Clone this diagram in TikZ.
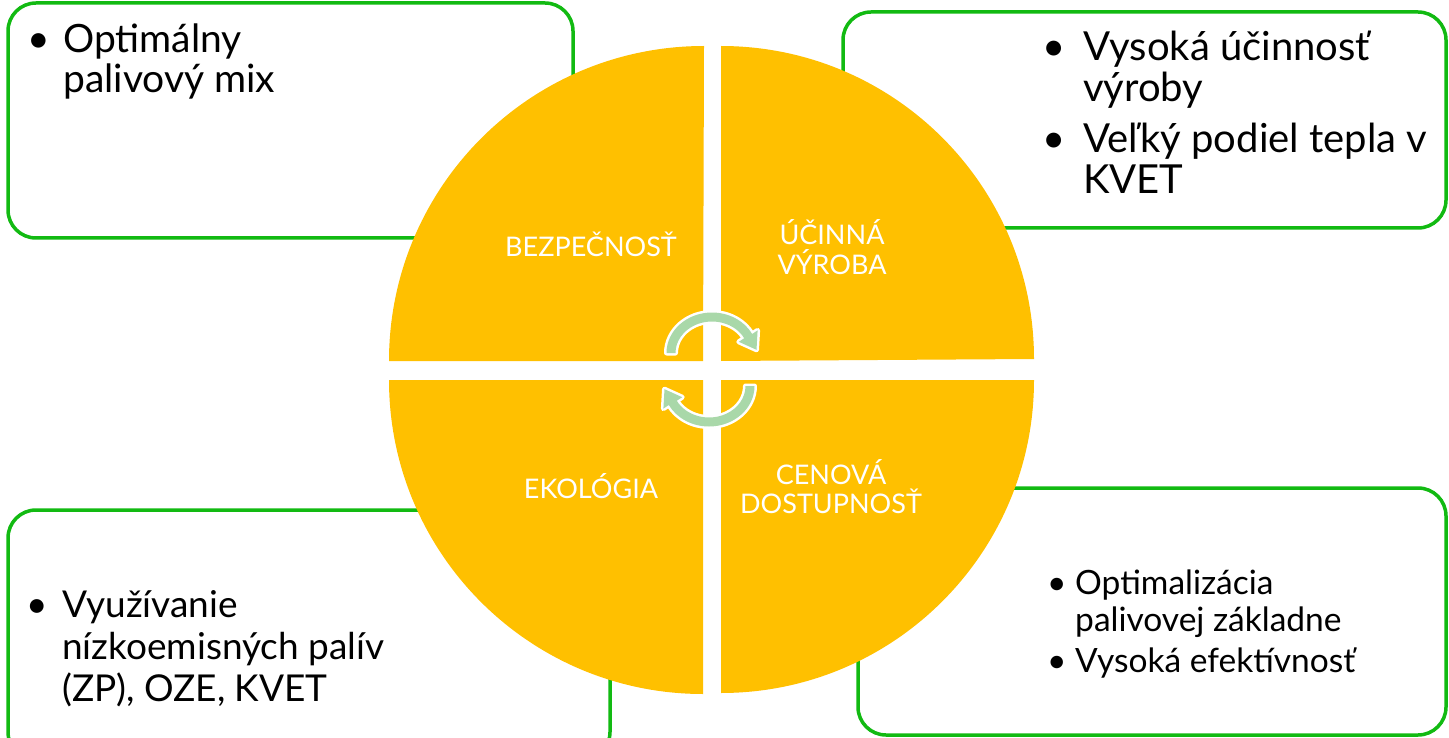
\documentclass[tikz,border=0pt]{standalone}
\usepackage{fontspec}
\setmainfont{Lato}
\definecolor{qyellow}{RGB}{255,192,0}
\definecolor{bgreen}{RGB}{18,186,18}
\definecolor{agreen}{RGB}{169,216,169}
\begin{document}
\begin{tikzpicture}[x=1pt,y=-1pt,
  box/.style={draw=bgreen, line width=3.5pt, fill=white, rounded corners=28pt},
  quad/.style={fill=qyellow},
  txt/.style={anchor=base west, inner sep=0pt, text=black, font=\fontsize{39}{43}\selectfont},
  ttxt/.style={anchor=base west, inner sep=0pt, text=black, font=\fontsize{40}{44}\selectfont},
  btxt/.style={anchor=base west, inner sep=0pt, text=black, font=\fontsize{37}{41}\selectfont},
  stxt/.style={anchor=base west, inner sep=0pt, text=black, font=\fontsize{33.5}{37}\selectfont},
  lbl/.style={anchor=base, inner sep=0pt, text=white, font=\fontsize{27}{30}\selectfont},
  cycarrow/.pic={
    \fill[agreen, preaction={draw=white, line width=5pt, line join=round}]
      (180:45.5 and 40.5) arc[start angle=180, end angle=332, x radius=45.5, y radius=40.5]
      -- (45.6,-22.6) -- (44.5,-3.2) -- (26.8,-11.2)
      -- (332:36.5 and 31.5) arc[start angle=332, end angle=180, x radius=36.5, y radius=31.5]
      -- cycle;
  }]
\useasboundingbox (0,0) rectangle (1449,738);
\clip (0,0) rectangle (1449,738);
\fill[white] (0,0) rectangle (1449,738);
% boxes
\draw[box] (8,3) rectangle (573,238);
\draw[box] (843,12) rectangle (1446,228);
\draw[box] (8,510) rectangle (610,760);
\draw[box] (858,488) rectangle (1446,735);
% quadrants
\fill[quad] (703,361) -- (389,361) arc[start angle=180, end angle=270, radius=315] -- cycle;
\fill[quad] (721,361) -- (721,46) arc[start angle=270, end angle=360, radius=313] -- cycle;
\fill[quad] (703,380) -- (703,694) arc[start angle=90, end angle=180, radius=314] -- cycle;
\fill[quad] (721,380) -- (1034,380) arc[start angle=0, end angle=90, radius=313] -- cycle;
% labels
\node[lbl] (l1) at (591,257) {BEZPEČNOSŤ};
\node[lbl] (l2a) at (832,245) {ÚČINNÁ};
\node[lbl] (l2b) at (832,274) {VÝROBA};
\node[lbl] (l3) at (591,498) {EKOLÓGIA};
\node[lbl] (l4a) at (831,484) {CENOVÁ};
\node[lbl] (l4b) at (831,513) {DOSTUPNOSŤ};
% cycle arrows
\pic (a1) at (712,353) {cycarrow};
\pic[rotate=180] (a2) at (709,386) {cycarrow};
% texts
\node[txt] (tlb) at (27,53) {•};
\node[txt] (tl1) at (63,53) {Optimálny};
\node[txt] (tl2) at (63,93) {palivový mix};
\node[ttxt] (trb1) at (1042,61) {•};
\node[ttxt] (tr1) at (1083,61) {Vysoká účinnosť};
\node[ttxt] (tr2) at (1083,102) {výroby};
\node[ttxt] (trb2) at (1042,153) {•};
\node[ttxt] (tr3) at (1083,153) {Veľký podiel tepla v};
\node[ttxt] (tr4) at (1083,194) {KVET};
\node[btxt] (blb) at (26,617) {•};
\node[btxt] (bl1) at (62,617) {Využívanie};
\node[btxt] (bl2) at (62,659) {nízkoemisných palív};
\node[btxt] (bl3) at (62,701) {(ZP), OZE, KVET};
\node[stxt] (brb1) at (1047,594) {•};
\node[stxt] (br1) at (1075,594) {Optimalizácia};
\node[stxt] (br2) at (1075,631) {palivovej základne};
\node[stxt] (brb2) at (1047,672) {•};
\node[stxt] (br3) at (1075,672) {Vysoká efektívnosť};
\end{tikzpicture}
\end{document}
